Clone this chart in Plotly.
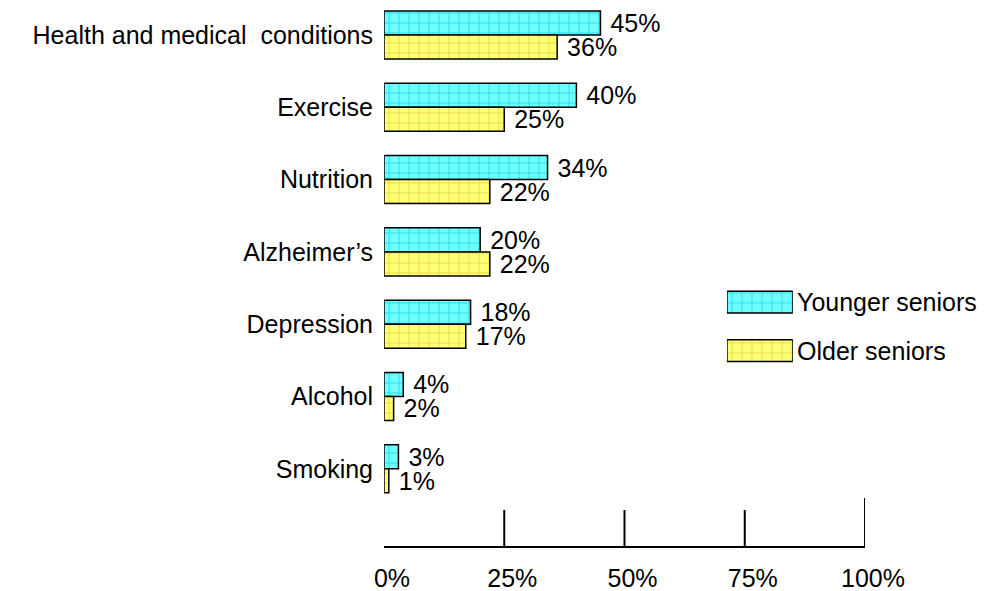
import plotly.graph_objects as go

categories = ["Health and medical  conditions", "Exercise", "Nutrition",
              "Alzheimer\u2019s", "Depression", "Alcohol", "Smoking"]
younger = [45, 40, 34, 20, 18, 4, 3]
older = [36, 25, 22, 22, 17, 2, 1]
series_names = ["Younger seniors", "Older seniors"]
x_tickvals = [0, 25, 50, 75, 100]
x_ticktext = ["0%", "25%", "50%", "75%", "100%"]

FONT = "Liberation Sans, Arial, sans-serif"
FS = 25
CYAN_BG, CYAN_FG = "#6EFFFF", "#2ED9EE"
YEL_BG, YEL_FG = "#FFFF78", "#E9DA45"

# page body has an 8px margin, so the figure is offset by 8px
W, H = 987, 583
L, T = 376, 0
plot_w, plot_h = 481, 538
R = W - L - plot_w
B = H - T - plot_h

fig = go.Figure()

def patterned(bg, fg):
    return dict(color=bg, line=dict(color="black", width=1.5),
                pattern=dict(shape="+", size=10, solidity=0.18,
                             bgcolor=bg, fgcolor=fg, fillmode="replace"))

for vals, name, bg, fg in [(younger, series_names[0], CYAN_BG, CYAN_FG),
                           (older, series_names[1], YEL_BG, YEL_FG)]:
    fig.add_trace(go.Bar(
        y=categories, x=vals, orientation="h", name=name,
        marker=patterned(bg, fg),
        text=[f"\u00a0{v}%" for v in vals], textposition="outside",
        textfont=dict(family=FONT, size=FS, color="black"),
        constraintext="none", cliponaxis=False, showlegend=False,
        xaxis="x", yaxis="y",
    ))

# custom legend swatches on a helper axis
for name, bg, fg in [(series_names[0], CYAN_BG, CYAN_FG),
                     (series_names[1], YEL_BG, YEL_FG)]:
    fig.add_trace(go.Bar(
        y=[name], x=[1], orientation="h", width=0.45,
        marker=patterned(bg, fg), showlegend=False, hoverinfo="skip",
        xaxis="x2", yaxis="y2",
    ))
    fig.add_annotation(x=1, y=name, xref="x2", yref="y2", text=name,
                       showarrow=False, xanchor="left", xshift=2,
                       font=dict(family=FONT, size=FS, color="black"))

# upward tick marks on the x axis
for tv in x_tickvals[1:]:
    length = 48 if tv == 100 else 36
    fig.add_shape(type="line", xref="x", yref="paper",
                  x0=tv, x1=tv, y0=0, y1=length / plot_h,
                  line=dict(color="black", width=2))

fig.update_layout(
    width=W, height=H,
    margin=dict(l=L, r=R, t=T, b=B, autoexpand=False),
    paper_bgcolor="white", plot_bgcolor="white",
    barmode="group", bargap=0.336, bargroupgap=0,
    font=dict(family=FONT, size=FS, color="black"),
    xaxis=dict(range=[0, 100], tickmode="array", tickvals=x_tickvals,
               ticktext=x_ticktext, showgrid=False, zeroline=False,
               showline=True, linecolor="black", linewidth=2, ticks="",
               ticklabelstandoff=9, ticklabelshift=8, automargin=False,
               tickfont=dict(family=FONT, size=FS, color="black")),
    yaxis=dict(type="category", categoryorder="array", categoryarray=categories,
               range=[7.068, -0.373], showgrid=False, zeroline=False,
               showline=False, ticks="", ticklabelstandoff=10, automargin=False,
               tickfont=dict(family=FONT, size=FS, color="black")),
    xaxis2=dict(domain=[0.713, 0.850], range=[0, 1], visible=False,
                anchor="y2", fixedrange=True),
    yaxis2=dict(domain=[0.318, 0.4985], range=[1.5, -0.5], visible=False,
                anchor="x2", type="category", categoryorder="array",
                categoryarray=series_names, fixedrange=True),
)

fig.write_html("out.html")
